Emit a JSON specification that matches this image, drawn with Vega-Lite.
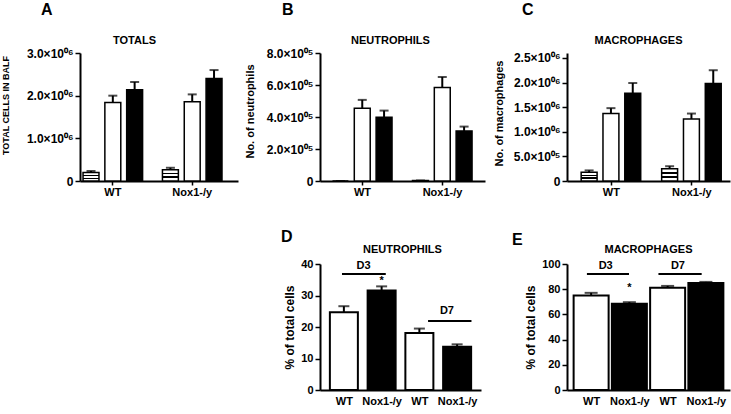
{
"$schema":"https://vega.github.io/schema/vega-lite/v6.json",
"background":"white",
"padding":{"left":1,"top":2,"right":2,"bottom":2},
"config":{
 "font":"Liberation Sans",
 "view":{"stroke":null},
 "axis":{"domainColor":"black","domainWidth":2,"tickColor":"black","tickWidth":1.5,"tickSize":5,"labelColor":"black","labelFont":"Liberation Sans","labelFontSize":11,"labelFontWeight":"bold","titleColor":"black","titleFont":"Liberation Sans","titleFontWeight":"bold","titleFontSize":11,"grid":false,"labelPadding":2,"labelOverlap":false},
 "title":{"font":"Liberation Sans","fontSize":16,"fontWeight":"bold","color":"black","anchor":"start","frame":"group"},
 "text":{"font":"Liberation Sans","fontSize":11,"fontWeight":"bold","color":"black"}
},
"resolve":{"scale":{"fill":"independent"}},
"columns":3,
"spacing":{"row":83,"column":82},
"bounds":"flush",
"concat":[
 {
  "title":{"text":"A","dx":-39,"dy":-12},
  "width":158,"height":128,
  "data":{"values":[
   {"genotype":"WT","day":"D0","mean":200000,"hi":235000},
   {"genotype":"WT","day":"D3","mean":1840000,"hi":2000000},
   {"genotype":"WT","day":"D7","mean":2140000,"hi":2320000},
   {"genotype":"Nox1-/y","day":"D0","mean":265000,"hi":310000},
   {"genotype":"Nox1-/y","day":"D3","mean":1860000,"hi":2030000},
   {"genotype":"Nox1-/y","day":"D7","mean":2400000,"hi":2600000}
  ]},
  "resolve":{"axis":{"x":"independent"}},
  "layer":[
   {"transform":[{"filter":"datum.day !== 'D0'"}],
    "mark":{"type":"bar","stroke":"black","strokeWidth":1.5},
    "encoding":{
     "x":{"field":"genotype","type":"nominal","sort":["WT","Nox1-/y"],"scale":{"paddingInner":0.25,"paddingOuter":0.12,"align":0.16},"axis":{"orient":"bottom","title":null,"labelAngle":0,"labelPadding":1,"tickSize":4}},
     "xOffset":{"field":"day","type":"nominal","scale":{"domain":["D0","D3","D7"],"paddingInner":0.27,"paddingOuter":0}},
     "y":{"field":"mean","type":"quantitative","title":"TOTAL CELLS IN BALF","scale":{"domain":[0,3000000]},"axis":{"titleFontSize":9,"titlePadding":16,"labelFontSize":12,"values":[0,1000000,2000000,3000000],"labelExpr":"datum.value === 0 ? '0' : format(datum.value/1e6, '.1f') + '×10⁰⁶'","titleY":52}},
     "fill":{"field":"day","type":"nominal","scale":{"domain":["D0","D3","D7"],"range":["white","white","black"]},"legend":null}
    }},
   {"transform":[{"filter":"datum.day === 'D0'"}],
    "mark":{"type":"bar","stroke":"black","strokeWidth":1.5,"fill":{"gradient":"linear","x1":0,"y1":0,"x2":0,"y2":1,"stops":[{"offset":0,"color":"white"},{"offset":0.3,"color":"white"},{"offset":0.3,"color":"black"},{"offset":0.42,"color":"black"},{"offset":0.42,"color":"white"},{"offset":0.6,"color":"white"},{"offset":0.6,"color":"black"},{"offset":0.72,"color":"black"},{"offset":0.72,"color":"white"},{"offset":1,"color":"white"}]}},
    "encoding":{
     "x":{"field":"genotype","type":"nominal","sort":["WT","Nox1-/y"],"axis":null},
     "xOffset":{"field":"day","type":"nominal"},
     "y":{"field":"mean","type":"quantitative","title":"TOTAL CELLS IN BALF","axis":{"titleFontSize":9,"titlePadding":16,"labelFontSize":12,"values":[0,1000000,2000000,3000000],"labelExpr":"datum.value === 0 ? '0' : format(datum.value/1e6, '.1f') + '×10⁰⁶'","titleY":52}}
    }},
   {"mark":{"type":"rule","strokeWidth":2,"color":"black"},
    "encoding":{
     "x":{"field":"genotype","type":"nominal","sort":["WT","Nox1-/y"],"axis":{"orient":"top","title":"TOTALS","domain":false,"ticks":false,"labels":false,"titleX":54,"titleY":-10,"titleBaseline":"alphabetic","titleAlign":"center"}},
     "xOffset":{"field":"day","type":"nominal"},
     "y":{"field":"mean","type":"quantitative","title":"TOTAL CELLS IN BALF","axis":{"titleFontSize":9,"titlePadding":16,"labelFontSize":12,"values":[0,1000000,2000000,3000000],"labelExpr":"datum.value === 0 ? '0' : format(datum.value/1e6, '.1f') + '×10⁰⁶'","titleY":52}},
     "y2":{"field":"hi"}
    }},
   {"mark":{"type":"tick","size":9,"thickness":2,"color":"black"},
    "encoding":{
     "x":{"field":"genotype","type":"nominal","sort":["WT","Nox1-/y"],"axis":null},
     "xOffset":{"field":"day","type":"nominal"},
     "y":{"field":"hi","type":"quantitative","title":"TOTAL CELLS IN BALF","axis":{"titleFontSize":9,"titlePadding":16,"labelFontSize":12,"values":[0,1000000,2000000,3000000],"labelExpr":"datum.value === 0 ? '0' : format(datum.value/1e6, '.1f') + '×10⁰⁶'","titleY":52}}
    }}
  ]
 },
 {
  "title":{"text":"B","dx":-38,"dy":-12},
  "width":165,"height":128,
  "data":{"values":[
   {"genotype":"WT","day":"D0","mean":0,"hi":0},
   {"genotype":"WT","day":"D3","mean":455000,"hi":507000},
   {"genotype":"WT","day":"D7","mean":399000,"hi":440000},
   {"genotype":"Nox1-/y","day":"D0","mean":3000,"hi":3000},
   {"genotype":"Nox1-/y","day":"D3","mean":585000,"hi":650000},
   {"genotype":"Nox1-/y","day":"D7","mean":313000,"hi":340000}
  ]},
  "resolve":{"axis":{"x":"independent"}},
  "layer":[
   {"transform":[{"filter":"datum.day !== 'D0'"}],
    "mark":{"type":"bar","stroke":"black","strokeWidth":1.5},
    "encoding":{
     "x":{"field":"genotype","type":"nominal","sort":["WT","Nox1-/y"],"scale":{"paddingInner":0.25,"paddingOuter":0.156,"align":0.5},"axis":{"orient":"bottom","title":null,"labelAngle":0,"labelPadding":1,"tickSize":4}},
     "xOffset":{"field":"day","type":"nominal","scale":{"domain":["D0","D3","D7"],"paddingInner":0.27,"paddingOuter":0}},
     "y":{"field":"mean","type":"quantitative","title":"No. of neutrophils","scale":{"domain":[0,800000]},"axis":{"labelFontSize":12,"titlePadding":11,"tickCount":4,"labelExpr":"datum.value < 1 ? '0' : format(datum.value/1e5, '.1f') + '×10⁰⁵'","titleY":58}},
     "fill":{"field":"day","type":"nominal","scale":{"domain":["D0","D3","D7"],"range":["white","white","black"]},"legend":null}
    }},
   {"transform":[{"filter":"datum.day === 'D0'"}],
    "mark":{"type":"bar","stroke":"black","strokeWidth":1.5,"fill":"white"},
    "encoding":{
     "x":{"field":"genotype","type":"nominal","sort":["WT","Nox1-/y"],"axis":null},
     "xOffset":{"field":"day","type":"nominal"},
     "y":{"field":"mean","type":"quantitative","title":"No. of neutrophils","axis":{"labelFontSize":12,"titlePadding":11,"tickCount":4,"labelExpr":"datum.value < 1 ? '0' : format(datum.value/1e5, '.1f') + '×10⁰⁵'","titleY":58}}
    }},
   {"mark":{"type":"rule","strokeWidth":2,"color":"black"},
    "encoding":{
     "x":{"field":"genotype","type":"nominal","sort":["WT","Nox1-/y"],"axis":{"orient":"top","title":"NEUTROPHILS","domain":false,"ticks":false,"labels":false,"titleX":70,"titleY":-10,"titleBaseline":"alphabetic","titleAlign":"center"}},
     "xOffset":{"field":"day","type":"nominal"},
     "y":{"field":"mean","type":"quantitative","title":"No. of neutrophils","axis":{"labelFontSize":12,"titlePadding":11,"tickCount":4,"labelExpr":"datum.value < 1 ? '0' : format(datum.value/1e5, '.1f') + '×10⁰⁵'","titleY":58}},
     "y2":{"field":"hi"}
    }},
   {"mark":{"type":"tick","size":9,"thickness":2,"color":"black"},
    "encoding":{
     "x":{"field":"genotype","type":"nominal","sort":["WT","Nox1-/y"],"axis":null},
     "xOffset":{"field":"day","type":"nominal"},
     "y":{"field":"hi","type":"quantitative","title":"No. of neutrophils","axis":{"labelFontSize":12,"titlePadding":11,"tickCount":4,"labelExpr":"datum.value < 1 ? '0' : format(datum.value/1e5, '.1f') + '×10⁰⁵'","titleY":58}}
    }}
  ]
 },
 {
  "title":{"text":"C","dx":-45,"dy":-12},
  "width":163,"height":128,
  "data":{"values":[
   {"genotype":"WT","day":"D0","mean":180000,"hi":215000},
   {"genotype":"WT","day":"D3","mean":1370000,"hi":1480000},
   {"genotype":"WT","day":"D7","mean":1780000,"hi":1990000},
   {"genotype":"Nox1-/y","day":"D0","mean":250000,"hi":300000},
   {"genotype":"Nox1-/y","day":"D3","mean":1260000,"hi":1370000},
   {"genotype":"Nox1-/y","day":"D7","mean":1980000,"hi":2250000}
  ]},
  "resolve":{"axis":{"x":"independent"}},
  "layer":[
   {"transform":[{"filter":"datum.day !== 'D0'"}],
    "mark":{"type":"bar","stroke":"black","strokeWidth":1.5},
    "encoding":{
     "x":{"field":"genotype","type":"nominal","sort":["WT","Nox1-/y"],"scale":{"paddingInner":0.25,"paddingOuter":0.1375,"align":0.64},"axis":{"orient":"bottom","title":null,"labelAngle":0,"labelPadding":1,"tickSize":4}},
     "xOffset":{"field":"day","type":"nominal","scale":{"domain":["D0","D3","D7"],"paddingInner":0.27,"paddingOuter":0}},
     "y":{"field":"mean","type":"quantitative","title":"No. of macrophages","scale":{"domain":[0,2500000]},"axis":{"labelFontSize":12,"titlePadding":9,"values":[0,500000,1000000,1500000,2000000,2500000],"labelExpr":"datum.value === 0 ? '0' : datum.value < 1e6 ? format(datum.value/1e5, '.1f') + '×10⁰⁵' : format(datum.value/1e6, '.1f') + '×10⁰⁶'","titleY":60}},
     "fill":{"field":"day","type":"nominal","scale":{"domain":["D0","D3","D7"],"range":["white","white","black"]},"legend":null}
    }},
   {"transform":[{"filter":"datum.day === 'D0'"}],
    "mark":{"type":"bar","stroke":"black","strokeWidth":1.5,"fill":{"gradient":"linear","x1":0,"y1":0,"x2":0,"y2":1,"stops":[{"offset":0,"color":"white"},{"offset":0.3,"color":"white"},{"offset":0.3,"color":"black"},{"offset":0.42,"color":"black"},{"offset":0.42,"color":"white"},{"offset":0.6,"color":"white"},{"offset":0.6,"color":"black"},{"offset":0.72,"color":"black"},{"offset":0.72,"color":"white"},{"offset":1,"color":"white"}]}},
    "encoding":{
     "x":{"field":"genotype","type":"nominal","sort":["WT","Nox1-/y"],"axis":null},
     "xOffset":{"field":"day","type":"nominal"},
     "y":{"field":"mean","type":"quantitative","title":"No. of macrophages","axis":{"labelFontSize":12,"titlePadding":9,"values":[0,500000,1000000,1500000,2000000,2500000],"labelExpr":"datum.value === 0 ? '0' : datum.value < 1e6 ? format(datum.value/1e5, '.1f') + '×10⁰⁵' : format(datum.value/1e6, '.1f') + '×10⁰⁶'","titleY":60}}
    }},
   {"mark":{"type":"rule","strokeWidth":2,"color":"black"},
    "encoding":{
     "x":{"field":"genotype","type":"nominal","sort":["WT","Nox1-/y"],"axis":{"orient":"top","title":"MACROPHAGES","domain":false,"ticks":false,"labels":false,"titleX":71,"titleY":-10,"titleBaseline":"alphabetic","titleAlign":"center"}},
     "xOffset":{"field":"day","type":"nominal"},
     "y":{"field":"mean","type":"quantitative","title":"No. of macrophages","axis":{"labelFontSize":12,"titlePadding":9,"values":[0,500000,1000000,1500000,2000000,2500000],"labelExpr":"datum.value === 0 ? '0' : datum.value < 1e6 ? format(datum.value/1e5, '.1f') + '×10⁰⁵' : format(datum.value/1e6, '.1f') + '×10⁰⁶'","titleY":60}},
     "y2":{"field":"hi"}
    }},
   {"mark":{"type":"tick","size":9,"thickness":2,"color":"black"},
    "encoding":{
     "x":{"field":"genotype","type":"nominal","sort":["WT","Nox1-/y"],"axis":null},
     "xOffset":{"field":"day","type":"nominal"},
     "y":{"field":"hi","type":"quantitative","title":"No. of macrophages","axis":{"labelFontSize":12,"titlePadding":9,"values":[0,500000,1000000,1500000,2000000,2500000],"labelExpr":"datum.value === 0 ? '0' : datum.value < 1e6 ? format(datum.value/1e5, '.1f') + '×10⁰⁵' : format(datum.value/1e6, '.1f') + '×10⁰⁶'","titleY":60}}
    }}
  ]
 },
 {
  "width":158,"height":126,
  "data":{"values":[]},
  "mark":{"type":"point","opacity":0},
  "encoding":{}
 },
 {
  "title":{"text":"D","dx":-39,"dy":6},
  "width":161,"height":126,
  "resolve":{"axis":{"x":"independent"}},
  "layer":[
   {"data":{"name":"d_main","values":[
     {"pos":1,"genotype":"WT","day":"D3","mean":24.7,"hi":26.6},
     {"pos":2,"genotype":"Nox1-/y","day":"D3","mean":31.6,"hi":32.9},
     {"pos":3,"genotype":"WT","day":"D7","mean":18.1,"hi":19.5},
     {"pos":4,"genotype":"Nox1-/y","day":"D7","mean":13.7,"hi":14.5}
    ]},
    "mark":{"type":"bar","size":28,"stroke":"black","strokeWidth":2},
    "encoding":{
     "x":{"field":"pos","type":"quantitative","scale":{"domain":[0.5,4.5],"nice":false,"zero":false},"axis":{"orient":"bottom","title":null,"values":[1,2,3,4],"labelExpr":"datum.value % 2 === 1 ? 'WT' : 'Nox1-/y'","ticks":false,"labelPadding":5,"labelFlush":false}},
     "y":{"field":"mean","type":"quantitative","title":"% of total cells","scale":{"domain":[0,40]},"axis":{"values":[0,10,20,30,40],"titleFontSize":12}},
     "fill":{"field":"genotype","type":"nominal","scale":{"domain":["WT","Nox1-/y"],"range":["white","black"]},"legend":null}
    }},
   {"data":{"name":"d_main"},
    "mark":{"type":"rule","strokeWidth":2,"color":"black"},
    "encoding":{
     "x":{"field":"pos","type":"quantitative","axis":{"orient":"top","title":"NEUTROPHILS","domain":false,"ticks":false,"labels":false,"titleX":82,"titleY":-12,"titleBaseline":"alphabetic","titleAlign":"center"}},
     "y":{"field":"mean","type":"quantitative","title":"% of total cells","axis":{"values":[0,10,20,30,40],"titleFontSize":12}},
     "y2":{"field":"hi"}
    }},
   {"data":{"name":"d_main"},
    "mark":{"type":"tick","orient":"horizontal","size":11,"thickness":2,"color":"black"},
    "encoding":{
     "x":{"field":"pos","type":"quantitative","axis":null},
     "y":{"field":"hi","type":"quantitative","title":"% of total cells","axis":{"values":[0,10,20,30,40],"titleFontSize":12}}
    }},
   {"data":{"values":[
     {"label":"D3","from":0.95,"to":2.11,"y":36.8},
     {"label":"D7","from":3.23,"to":4.38,"y":21.9}
    ]},
    "mark":{"type":"rule","strokeWidth":2,"color":"black"},
    "encoding":{
     "x":{"field":"from","type":"quantitative","axis":null},
     "x2":{"field":"to"},
     "y":{"field":"y","type":"quantitative","title":"% of total cells","axis":{"values":[0,10,20,30,40],"titleFontSize":12}}
    }},
   {"data":{"values":[
     {"label":"D3","tx":1.52,"ty":38.4},
     {"label":"D7","tx":3.73,"ty":24.1},
     {"label":"*","tx":2,"ty":33.6}
    ]},
    "mark":{"type":"text","baseline":"alphabetic","align":"center"},
    "encoding":{
     "x":{"field":"tx","type":"quantitative","axis":null},
     "y":{"field":"ty","type":"quantitative","title":"% of total cells","axis":{"values":[0,10,20,30,40],"titleFontSize":12}},
     "text":{"field":"label"}
    }}
  ]
 },
 {
  "title":{"text":"E","dx":-55,"dy":9},
  "width":163,"height":126,
  "resolve":{"axis":{"x":"independent"}},
  "layer":[
   {"data":{"name":"e_main","values":[
     {"pos":1,"genotype":"WT","day":"D3","mean":75.0,"hi":77.1},
     {"pos":2,"genotype":"Nox1-/y","day":"D3","mean":68.4,"hi":69.7},
     {"pos":3,"genotype":"WT","day":"D7","mean":81.1,"hi":82.6},
     {"pos":4,"genotype":"Nox1-/y","day":"D7","mean":85.0,"hi":85.8}
    ]},
    "mark":{"type":"bar","size":35,"stroke":"black","strokeWidth":2},
    "encoding":{
     "x":{"field":"pos","type":"quantitative","scale":{"domain":[0.5,4.5],"nice":false,"zero":false},"axis":{"orient":"bottom","title":null,"values":[1,2,3,4],"labelExpr":"datum.value % 2 === 1 ? 'WT' : 'Nox1-/y'","ticks":false,"labelPadding":5,"labelFlush":false}},
     "y":{"field":"mean","type":"quantitative","title":"% of total cells","scale":{"domain":[0,100]},"axis":{"values":[0,20,40,60,80,100],"titleFontSize":12}},
     "fill":{"field":"genotype","type":"nominal","scale":{"domain":["WT","Nox1-/y"],"range":["white","black"]},"legend":null}
    }},
   {"data":{"name":"e_main"},
    "mark":{"type":"rule","strokeWidth":2,"color":"black"},
    "encoding":{
     "x":{"field":"pos","type":"quantitative","axis":{"orient":"top","title":"MACROPHAGES","domain":false,"ticks":false,"labels":false,"titleX":81,"titleY":-12,"titleBaseline":"alphabetic","titleAlign":"center"}},
     "y":{"field":"mean","type":"quantitative","title":"% of total cells","axis":{"values":[0,20,40,60,80,100],"titleFontSize":12}},
     "y2":{"field":"hi"}
    }},
   {"data":{"name":"e_main"},
    "mark":{"type":"tick","orient":"horizontal","size":13,"thickness":2,"color":"black"},
    "encoding":{
     "x":{"field":"pos","type":"quantitative","axis":null},
     "y":{"field":"hi","type":"quantitative","title":"% of total cells","axis":{"values":[0,20,40,60,80,100],"titleFontSize":12}}
    }},
   {"data":{"values":[
     {"label":"D3","from":0.89,"to":1.99,"y":92},
     {"label":"D7","from":2.76,"to":3.89,"y":92}
    ]},
    "mark":{"type":"rule","strokeWidth":2,"color":"black"},
    "encoding":{
     "x":{"field":"from","type":"quantitative","axis":null},
     "x2":{"field":"to"},
     "y":{"field":"y","type":"quantitative","title":"% of total cells","axis":{"values":[0,20,40,60,80,100],"titleFontSize":12}}
    }},
   {"data":{"values":[
     {"label":"D3","tx":1.38,"ty":96},
     {"label":"D7","tx":3.27,"ty":96},
     {"label":"*","tx":2,"ty":78.6}
    ]},
    "mark":{"type":"text","baseline":"alphabetic","align":"center"},
    "encoding":{
     "x":{"field":"tx","type":"quantitative","axis":null},
     "y":{"field":"ty","type":"quantitative","title":"% of total cells","axis":{"values":[0,20,40,60,80,100],"titleFontSize":12}},
     "text":{"field":"label"}
    }}
  ]
 }
]
}
